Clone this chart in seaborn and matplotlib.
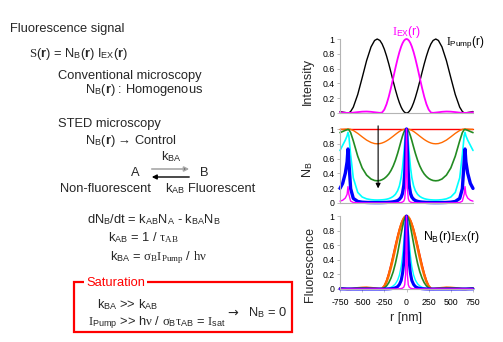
import numpy as np
import matplotlib
matplotlib.use("Agg")
import matplotlib.pyplot as plt
import seaborn as sns
from matplotlib.patches import FancyArrowPatch, Rectangle

# ---------------- data ----------------
# half profiles for r >= 0 (nm); every curve is symmetric about r = 0
r_half = [0, 10, 20, 30, 45, 60, 80, 100, 125, 150, 175, 200, 225, 250, 275,
          300, 330, 360, 400, 450, 500, 550, 600, 630, 650, 660, 670, 690, 720, 750]

# top panel: intensities
pump_half = [0, .002, .009, .020, .045, .079, .138, .210, .314, .429, .548, .664, .770, .862, .933,
             .980, 1.0, .980, .893, .708, .476, .250, .079, .020, .002, 0, .002, .006, .012, .020]
ex_half = [1, .997, .988, .974, .942, .898, .824, .734, .608, .473, .341, .220, .119, .046, .007,
           .002, .006, .010, .016, .020, .018, .012, .005, .002, .001, .001, .001, .003, .006, .010]

# middle panel: N_B for increasing pump power
nb_red = [1, 1, 1, 1, 1, 1, 1, 1, 1, 1, 1, 1, 1, 1, 1,
          1, 1, 1, 1, 1, 1, 1, 1, 1, 1, 1, 1, 1, 1, 1]
nb_orange = [1, .999, .998, .995, .989, .981, .967, .950, .927, .903, .880, .858, .839, .823, .811,
             .803, .800, .803, .818, .850, .894, .941, .980, .995, .999, 1.0, .999, .998, .996, .995]
nb_green = [1, .995, .979, .955, .905, .844, .756, .671, .577, .500, .439, .392, .358, .332, .315,
            .304, .300, .304, .324, .377, .474, .632, .840, .951, .990, .995, .990, .982, .966, .951]
nb_cyan = [1, .948, .822, .673, .480, .344, .232, .166, .117, .089, .071, .059, .051, .046, .043,
           .041, .040, .041, .045, .056, .081, .143, .339, .651, .907, .954, .907, .850, .780, .710]
nb_blue = [1, .70, .40, .24, .13, .08, .05, .033, .022, .016, .012, .010, .008, .007, .006,
           .0055, .0054, .0055, .006, .0076, .011, .021, .062, .195, .557, .730, .557, .403, .265, .197]
nb_magenta = [1, .201, .060, .027, .013, .007, .004, .003, .002, .0013, .001, .0009, .0007, .0007, .0006,
              .0006, .0006, .0006, .0006, .0008, .0012, .0023, .007, .025, .117, .222, .117, .067, .037, .025]

# bottom panel: fluorescence N_B * I_EX
fl_red = ex_half
fl_orange = [1, .997, .986, .969, .931, .881, .796, .698, .563, .427, .300, .189, .099, .038, .005,
             .002, .005, .008, .013, .017, .016, .011, .005, .002, .001, .001, .001, .003, .006, .010]
fl_green = [1, .992, .968, .930, .852, .758, .623, .493, .351, .236, .150, .086, .042, .015, .002,
            .001, .002, .003, .005, .008, .009, .008, .004, .002, .001, .001, .001, .003, .006, .009]
fl_cyan = [1, .946, .812, .655, .452, .309, .191, .122, .071, .042, .024, .013, .006, .002, .0003,
           .0001, .0002, .0004, .0007, .0011, .0014, .0017, .0017, .0013, .0009, .001, .0009, .0025, .0044, .0065]
fl_blue = [1, .80, .54, .37, .21, .117, .062, .033, .017, .0085, .0044, .0022, .0009, .0003, 0,
           0, 0, 0, 0, 0, 0, 0, .0003, .0004, .0006, .0007, .0006, .0012, .0016, .002]
fl_magenta = [1, .200, .059, .027, .012, .006, .003, .002, .001, .0006, 0, 0, 0, 0, 0,
              0, 0, 0, 0, 0, 0, 0, 0, 0, 0, 0, 0, 0, 0, 0]

x_ticks = [-750, -500, -250, 0, 250, 500, 750]
y_ticks = [0, 0.2, 0.4, 0.6, 0.8, 1]
y_tick_labels = ["0", "0.2", "0.4", "0.6", "0.8", "1"]

# ---------------- style ----------------
sns.set_theme(style="white")
plt.rcParams["font.family"] = ["Liberation Sans", "DejaVu Sans"]
plt.rcParams["mathtext.fontset"] = "custom"
plt.rcParams["mathtext.rm"] = "Liberation Sans"
plt.rcParams["mathtext.it"] = "Liberation Serif"
plt.rcParams["mathtext.bf"] = "Liberation Sans:bold"
plt.rcParams["mathtext.sf"] = "Liberation Serif"

W, H = 503, 342
fig = plt.figure(figsize=(W / 100, H / 100), dpi=100)
fig.patch.set_facecolor("white")


def full(v):
    v = np.asarray(v, dtype=float)
    return np.concatenate([v[:0:-1], v])


r_full = np.concatenate([-np.asarray(r_half[:0:-1], float), np.asarray(r_half, float)])

AX_L, AX_W = 340, 133
ax_top = fig.add_axes([AX_L / W, 1 - 113 / H, AX_W / W, 74 / H])
ax_mid = fig.add_axes([AX_L / W, 1 - 203 / H, AX_W / W, 74 / H])
ax_bot = fig.add_axes([AX_L / W, 1 - 289 / H, AX_W / W, 73 / H])

GRAY = "#b4b4b4"
for ax in (ax_top, ax_mid, ax_bot):
    ax.set_facecolor("white")
    ax.set_xlim(-750, 750)
    ax.set_ylim(0, 1)
    for s in ("top", "right"):
        ax.spines[s].set_visible(False)
    for s in ("left", "bottom"):
        ax.spines[s].set_color(GRAY)
        ax.spines[s].set_linewidth(0.8)
    ax.set_yticks(y_ticks)
    ax.set_yticklabels(y_tick_labels)
    ax.tick_params(axis="y", length=2, width=0.6, color=GRAY, labelsize=6.3, pad=2,
                   labelcolor="black", left=True)
    ax.grid(False)

for ax in (ax_top, ax_mid):
    ax.set_xticks([])

ax_bot.set_xticks(x_ticks)
ax_bot.set_xticklabels([str(t) for t in x_ticks])
ax_bot.tick_params(axis="x", length=2, width=0.6, color=GRAY, labelsize=6.3, pad=4.5,
                   labelcolor="black", bottom=True)


def line(ax, vals, color, lw, ls="-"):
    sns.lineplot(x=r_full, y=full(vals), ax=ax, color=color, linewidth=lw, linestyle=ls,
                 estimator=None, sort=False, legend=False, clip_on=False)


# top panel
line(ax_top, pump_half, "black", 1.0)
line(ax_top, ex_half, "#ff00ff", 1.3)
ax_top.text(0, 1.10, r"$I_{\mathrm{EX}}\mathrm{(r)}$", color="#ff00ff", fontsize=8.8,
            ha="center", va="center")
ax_top.text(440, 0.95, r"$I_{\mathrm{Pump}}\mathrm{(r)}$", color="black", fontsize=8.5,
            ha="left", va="center")

# middle panel
line(ax_mid, nb_red, "#ff0000", 1.0)
line(ax_mid, nb_orange, "#ff6a00", 1.0)
line(ax_mid, nb_green, "#228b22", 1.2)
line(ax_mid, nb_cyan, "#00ffff", 1.2)
line(ax_mid, nb_blue, "#0000ff", 2.4)
line(ax_mid, nb_magenta, "#ff00ff", 1.0)
ax_mid.annotate("", xy=(-320, 0.16), xytext=(-320, 1.08),
                arrowprops=dict(arrowstyle="-|>", color="black", lw=0.8, mutation_scale=7),
                annotation_clip=False)

# bottom panel
line(ax_bot, fl_red, "#ff0000", 1.0)
line(ax_bot, fl_orange, "#ff6a00", 1.8)
line(ax_bot, fl_green, "#228b22", 1.2)
line(ax_bot, fl_cyan, "#00ffff", 1.0)
line(ax_bot, fl_blue, "#0000ff", 2.2)
line(ax_bot, fl_magenta, "#ff00ff", 1.0)
ax_bot.text(190, 0.71, r"$\mathrm{N_B(r)}I_{\mathrm{EX}}\mathrm{(r)}$", color="black",
            fontsize=8.8, ha="left", va="center")

# axis labels
ax_top.set_ylabel("Intensity", fontsize=9, va="center")
ax_top.yaxis.set_label_coords((308 - AX_L) / AX_W, 0.42)
ax_mid.set_ylabel(r"N$_\mathrm{B}$", fontsize=9, va="center")
ax_mid.yaxis.set_label_coords((308 - AX_L) / AX_W, 0.45)
ax_bot.set_ylabel("Fluorescence", fontsize=9, va="center")
ax_bot.yaxis.set_label_coords((310 - AX_L) / AX_W, 0.34)
ax_bot.set_xlabel("r [nm]", fontsize=9, va="center")
ax_bot.xaxis.set_label_coords(0.5, (289 - 318) / 73)
ax_top.set_xlabel("")
ax_mid.set_xlabel("")

# ---------------- left-hand text ----------------
FS = 9.3


def T(x, y, s, **kw):
    kw.setdefault("fontsize", FS)
    kw.setdefault("ha", "left")
    fig.text(x / W, 1 - (y + 4.3) / H, s, va="baseline", **kw)


T(10, 28, "Fluorescence signal")
T(29, 53, r"$\mathsf{S}$($\mathbf{r}$) = N$_\mathrm{B}$($\mathbf{r}$) I$_\mathrm{EX}$($\mathbf{r}$)")
T(58, 75, "Conventional microscopy")
T(85, 89, r"N$_\mathrm{B}$($\mathbf{r}$) : Homogenous")
T(58, 123, "STED microscopy")
T(85, 140, r"N$_\mathrm{B}$($\mathbf{r}$) → Control")
T(171, 156, r"k$_\mathrm{BA}$", ha="center")
T(135, 172, "A", ha="center")
T(204, 172, "B", ha="center")
T(60, 188, "Non-fluorescent")
T(165, 188, r"k$_\mathrm{AB}$")
T(188, 188, "Fluorescent")
T(87, 219, r"dN$_\mathrm{B}$/dt = k$_\mathrm{AB}$N$_\mathrm{A}$ - k$_\mathrm{BA}$N$_\mathrm{B}$")
T(108, 237, r"k$_\mathrm{AB}$ = 1 / $\tau_{AB}$")
T(110, 256, r"k$_\mathrm{BA}$ = $\sigma_{B}I_{Pump}$ / $h\nu$")

# reaction arrows
fig.add_artist(FancyArrowPatch((149 / W, 1 - 169 / H), (192 / W, 1 - 169 / H),
                               transform=fig.transFigure, arrowstyle="-|>", mutation_scale=7,
                               lw=1.2, ec="#a8a8a8", fc="black"))
fig.add_artist(FancyArrowPatch((192 / W, 1 - 177 / H), (149 / W, 1 - 177 / H),
                               transform=fig.transFigure, arrowstyle="-|>", mutation_scale=7,
                               lw=1.0, color="black"))

# saturation box
fig.add_artist(Rectangle((74 / W, 1 - 332 / H), (292 - 74) / W, (332 - 282) / H,
                         transform=fig.transFigure, fill=False, ec="#ff0000", lw=1.6, zorder=1))
fig.text(86 / W, 1 - 283 / H, "Saturation", fontsize=FS, color="#ff0000", ha="left",
         va="center", zorder=5,
         bbox=dict(boxstyle="square,pad=0.15", fc="white", ec="none"))
T(97, 304, r"k$_\mathrm{BA}$ >> k$_\mathrm{AB}$")
T(88, 321, r"$I_\mathrm{Pump}$ >> h$\nu$ / $\sigma_\mathrm{B}\tau_\mathrm{AB}$ = $I_\mathrm{sat}$")
T(227, 312, "→", family=["DejaVu Sans"])
T(248, 312, r"N$_\mathrm{B}$ = 0")

fig.savefig("out.png", dpi=100, facecolor="white")
